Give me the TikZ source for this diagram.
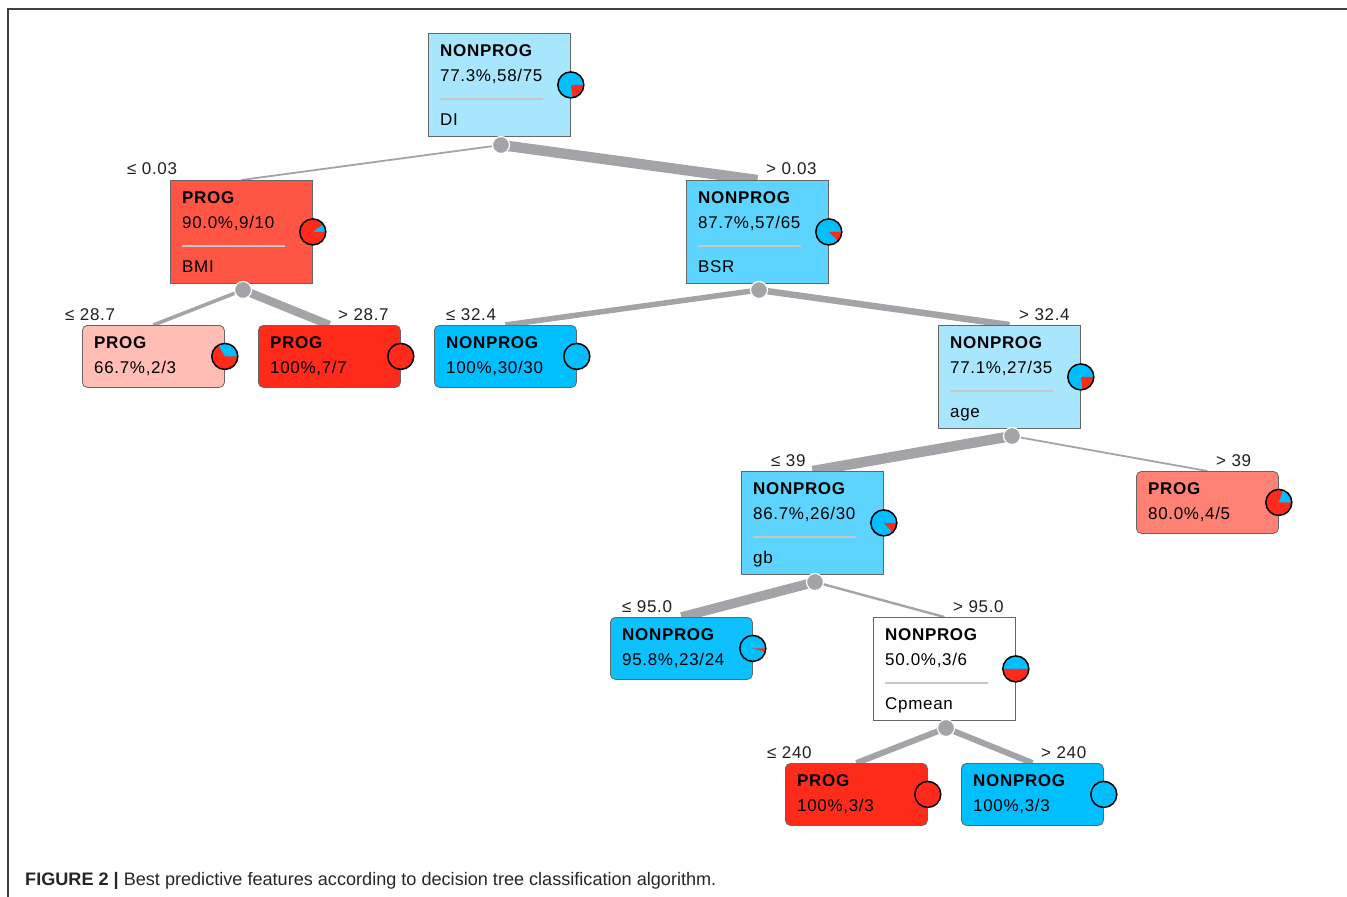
\documentclass[tikz,border=0pt]{standalone}
\usepackage{fontspec}
\setmainfont{Liberation Sans}
\newfontfamily\treefont[LetterSpace=4]{Liberation Sans}
\usetikzlibrary{positioning,calc,backgrounds}

\definecolor{pblue}{HTML}{00BFFF}
\definecolor{pred}{HTML}{FF2A1A}
\definecolor{lblue}{HTML}{A8E6FD}
\definecolor{mblue}{HTML}{5CD4FE}
\definecolor{fblue}{HTML}{00BFFF}
\definecolor{sblue}{HTML}{0CC1FE}
\definecolor{mred}{HTML}{FF5545}
\definecolor{lred}{HTML}{FFBDB6}
\definecolor{fred}{HTML}{FF2B1A}
\definecolor{ored}{HTML}{FF8174}
\definecolor{edgegray}{HTML}{A3A3A8}

% split node: name, corner, fill, class, stats, feature
\newcommand{\splitbox}[6]{
    \node[split box, fill=#3] (#1) at #2 {};
    \node[cls] (#1-cls) at ($(#1.north west)+(12,23)$) {#4};
    \node[stat] (#1-stat) at ($(#1.north west)+(12,48)$) {#5};
    \draw[sep] ($(#1.north west)+(12,66)$) -- ++(103,0);
    \node[stat] (#1-feat) at ($(#1.north west)+(12,92)$) {#6};
}
% leaf node: name, corner, fill, class, stats
\newcommand{\leafbox}[5]{
    \node[leaf box, fill=#3] (#1) at #2 {};
    \node[cls] (#1-cls) at ($(#1.north west)+(12,23)$) {#4};
    \node[stat] (#1-stat) at ($(#1.north west)+(12,48)$) {#5};
}
% class pie on the right side of a box, red share given
\newcommand{\classpie}[2]{
    \fill[pblue] (#1.east) circle[radius=13];
    \fill[pred] (#1.east) -- ++(0:13) arc[start angle=0, end angle={360*#2}, radius=13] -- cycle;
    \draw[line width=1.5] (#1.east) circle[radius=13];
}

\begin{document}
\begin{tikzpicture}[x=1pt, y=-1pt,
        split box/.style={draw=black!60, line width=0.8, anchor=north west,
            minimum width=142, minimum height=103, inner sep=0pt},
        leaf box/.style={split box, minimum height=62, rounded corners=5},
        cls/.style={anchor=base west, inner sep=0pt, font=\treefont\bfseries\fontsize{17}{20}\selectfont},
        stat/.style={anchor=base west, inner sep=0pt, font=\treefont\fontsize{17}{20}\selectfont},
        sep/.style={draw=black!22, line width=1.2},
        thr/.style={anchor=base west, inner sep=0pt, text=black!88, font=\treefont\fontsize{17}{20}\selectfont},
        split dot/.style={circle, fill=edgegray, draw=white, line width=1.2, minimum size=17, inner sep=0pt},
        edge/.style={draw=edgegray, line cap=butt}]
    \useasboundingbox (0,0) rectangle (1347,897);
    \draw[black!75, line width=1.5] (8,897) -- (8,9) -- (1347,9);

    % tree nodes
    \splitbox{di}{(428,33)}{lblue}{NONPROG}{77.3\%,58/75}{DI}
    \splitbox{bmi}{(170,180)}{mred}{PROG}{90.0\%,9/10}{BMI}
    \splitbox{bsr}{(686,180)}{mblue}{NONPROG}{87.7\%,57/65}{BSR}
    \leafbox{lowbmi}{(82,325)}{lred}{PROG}{66.7\%,2/3}
    \leafbox{highbmi}{(258,325)}{fred}{PROG}{100\%,7/7}
    \leafbox{lowbsr}{(434,325)}{fblue}{NONPROG}{100\%,30/30}
    \splitbox{age}{(938,325)}{lblue}{NONPROG}{77.1\%,27/35}{age}
    \splitbox{gb}{(741,471)}{mblue}{NONPROG}{86.7\%,26/30}{gb}
    \leafbox{oldage}{(1136,471)}{ored}{PROG}{80.0\%,4/5}
    \leafbox{lowgb}{(610,617)}{sblue}{NONPROG}{95.8\%,23/24}
    \splitbox{cp}{(873,617)}{white}{NONPROG}{50.0\%,3/6}{Cpmean}
    \leafbox{lowcp}{(785,763)}{fred}{PROG}{100\%,3/3}
    \leafbox{highcp}{(961,763)}{fblue}{NONPROG}{100\%,3/3}

    % split points
    \node[split dot] (d-di) at (501,145) {};
    \node[split dot] (d-bmi) at (243,290) {};
    \node[split dot] (d-bsr) at (759,290) {};
    \node[split dot] (d-age) at (1012,436) {};
    \node[split dot] (d-gb) at (815,582) {};
    \node[split dot] (d-cp) at (946,728) {};

    % branches, width by share of samples
    \begin{scope}[on background layer]
        \draw[edge, line width=1.8] (d-di.center) -- (bmi.north);
        \draw[edge, line width=10.4] (d-di.center) -- (bsr.north);
        \draw[edge, line width=3.6] (d-bmi.center) -- (lowbmi.north);
        \draw[edge, line width=8.4] (d-bmi.center) -- (highbmi.north);
        \draw[edge, line width=5.5] (d-bsr.center) -- (lowbsr.north);
        \draw[edge, line width=6.5] (d-bsr.center) -- (age.north);
        \draw[edge, line width=10.3] (d-age.center) -- (gb.north);
        \draw[edge, line width=1.8] (d-age.center) -- (oldage.north);
        \draw[edge, line width=9.6] (d-gb.center) -- (lowgb.north);
        \draw[edge, line width=2.4] (d-gb.center) -- (cp.north);
        \draw[edge, line width=6] (d-cp.center) -- (lowcp.north);
        \draw[edge, line width=6] (d-cp.center) -- (highcp.north);
    \end{scope}

    % thresholds
    \node[thr] (t-di-l) at (127,174) {≤ 0.03};
    \node[thr] (t-di-r) at (766,174) {> 0.03};
    \node[thr] (t-bmi-l) at (65,320) {≤ 28.7};
    \node[thr] (t-bmi-r) at (338,320) {> 28.7};
    \node[thr] (t-bsr-l) at (446,320) {≤ 32.4};
    \node[thr] (t-bsr-r) at (1019,320) {> 32.4};
    \node[thr] (t-age-l) at (771,466) {≤ 39};
    \node[thr] (t-age-r) at (1216,466) {> 39};
    \node[thr] (t-gb-l) at (622,612) {≤ 95.0};
    \node[thr] (t-gb-r) at (953,612) {> 95.0};
    \node[thr] (t-cp-l) at (767,758) {≤ 240};
    \node[thr] (t-cp-r) at (1041,758) {> 240};

    % class pies
    \classpie{di}{0.2267}
    \classpie{bmi}{0.9}
    \classpie{bsr}{0.1231}
    \classpie{lowbmi}{0.6667}
    \classpie{highbmi}{1}
    \classpie{lowbsr}{0}
    \classpie{age}{0.2286}
    \classpie{gb}{0.1333}
    \classpie{oldage}{0.8}
    \classpie{lowgb}{0.0417}
    \classpie{cp}{0.5}
    \classpie{lowcp}{1}
    \classpie{highcp}{0}

    \node[anchor=base west, inner sep=0pt, text=black!85, font=\fontsize{18.1}{20}\selectfont] (caption) at (25,885)
        {\textbf{FIGURE 2 |} Best predictive features according to decision tree classification algorithm.};
\end{tikzpicture}
\end{document}
